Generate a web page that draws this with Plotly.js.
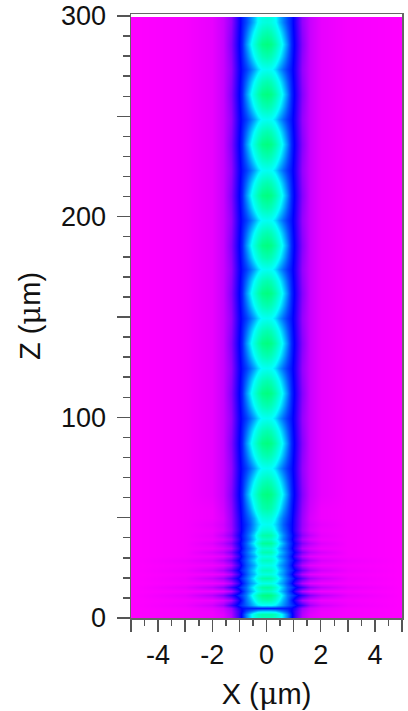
<!DOCTYPE html>
<html><head><meta charset="utf-8">
<script src="https://cdn.plot.ly/plotly-3.0.1.min.js"></script>
<style>html,body{margin:0;padding:0;background:#fff}</style></head>
<body><div id="chart" style="width:408px;height:711px"></div>
<script>
// distance from the axis of the guide (um)
const offsetsX = [0,.15,.3,.45,.6,.75,.9,1.05,1.3,1.6,2,3,5];
// propagation positions (um)
const depthsZ = [0,2,3.5,5,6.5,9,11.5,13.5,15.5,17.5,20,22,24,26.5,29,31,33,35,37.5,39.5,41.5,44,47,50,55,
 62,68,74.5,81,87,93,99.5,106,112,118,124.5,131,137,143,149.5,156,162,168,174,180,186,192,198.5,205,211,217,223.5,230,236,242,248.5,255,261,267,273.5,280,286,292,297];
// normalised intensity at each depth, half profile (mirrored about X = 0)
const intensity = [
[.84,.84,.80,.72,.62,.50,.36,.24,.09,.04,.02,.01,0],
[.88,.88,.84,.74,.62,.50,.37,.25,.10,.04,.02,.01,0],
[.62,.62,.60,.54,.48,.42,.34,.25,.11,.05,.02,.01,0],
[.37,.37,.37,.37,.37,.36,.34,.28,.13,.06,.03,.01,0],
[.66,.67,.64,.58,.52,.46,.41,.36,.25,.12,.06,.02,0],
[.88,.86,.78,.66,.56,.48,.38,.28,.11,.05,.02,.01,0],
[1.00,.98,.88,.74,.62,.50,.43,.38,.27,.16,.09,.03,0],
[.82,.80,.72,.62,.54,.46,.37,.26,.10,.04,.02,.01,0],
[.92,.90,.80,.68,.58,.48,.42,.36,.25,.14,.08,.03,0],
[.72,.72,.66,.58,.52,.44,.36,.25,.10,.04,.02,.01,0],
[.90,.88,.78,.66,.56,.48,.41,.34,.22,.12,.07,.02,0],
[.74,.74,.68,.58,.52,.44,.36,.25,.10,.04,.02,.01,0],
[.84,.82,.72,.62,.54,.46,.40,.33,.20,.11,.06,.02,0],
[.72,.72,.66,.56,.50,.44,.36,.25,.10,.04,.02,.01,0],
[.84,.82,.72,.62,.54,.46,.39,.32,.18,.10,.05,.02,0],
[.74,.74,.66,.56,.50,.44,.36,.25,.10,.04,.02,.01,0],
[.88,.86,.74,.62,.54,.46,.39,.31,.17,.09,.05,.01,0],
[.78,.78,.68,.58,.50,.44,.36,.26,.10,.05,.02,.01,0],
[.94,.92,.80,.66,.56,.46,.38,.30,.16,.09,.04,.01,0],
[.82,.80,.70,.60,.50,.43,.36,.26,.11,.05,.02,.01,0],
[.90,.88,.76,.62,.52,.44,.37,.29,.15,.08,.03,.01,0],
[.78,.76,.66,.56,.48,.42,.35,.26,.12,.05,.02,.01,0],
[.70,.68,.62,.54,.46,.40,.35,.27,.13,.06,.03,.01,0],
[.76,.74,.66,.56,.48,.42,.36,.27,.13,.05,.02,.01,0],
[.90,.87,.78,.66,.55,.46,.37,.29,.14,.06,.02,.01,0],
[1.00,.97,.88,.76,.64,.52,.39,.31,.16,.07,.03,.01,0],
[.88,.85,.77,.67,.57,.47,.38,.30,.15,.07,.03,.01,0],
[.70,.68,.62,.54,.47,.41,.36,.29,.14,.07,.03,.01,0],
[.88,.85,.77,.67,.57,.47,.38,.30,.15,.07,.03,.01,0],
[1.00,.97,.88,.76,.64,.52,.39,.31,.16,.07,.03,.01,0],
[.88,.85,.77,.67,.57,.47,.38,.30,.15,.07,.03,.01,0],
[.70,.68,.62,.54,.47,.41,.36,.29,.14,.07,.03,.01,0],
[.88,.85,.77,.67,.57,.47,.38,.30,.15,.07,.03,.01,0],
[1.00,.97,.88,.76,.64,.52,.39,.31,.16,.07,.03,.01,0],
[.88,.85,.77,.67,.57,.47,.38,.30,.15,.07,.03,.01,0],
[.70,.68,.62,.54,.47,.41,.36,.29,.14,.07,.03,.01,0],
[.88,.85,.77,.67,.57,.47,.38,.30,.15,.07,.03,.01,0],
[1.00,.97,.88,.76,.64,.52,.39,.31,.16,.07,.03,.01,0],
[.88,.85,.77,.67,.57,.47,.38,.30,.15,.07,.03,.01,0],
[.70,.68,.62,.54,.47,.41,.36,.29,.14,.07,.03,.01,0],
[.88,.85,.77,.67,.57,.47,.38,.30,.15,.07,.03,.01,0],
[1.00,.97,.88,.76,.64,.52,.39,.31,.16,.07,.03,.01,0],
[.88,.85,.77,.67,.57,.47,.38,.30,.15,.07,.03,.01,0],
[.70,.68,.62,.54,.47,.41,.36,.29,.14,.07,.03,.01,0],
[.88,.85,.77,.67,.57,.47,.38,.30,.15,.07,.03,.01,0],
[1.00,.97,.88,.76,.64,.52,.39,.31,.16,.07,.03,.01,0],
[.88,.85,.77,.67,.57,.47,.38,.30,.15,.07,.03,.01,0],
[.70,.68,.62,.54,.47,.41,.36,.29,.14,.07,.03,.01,0],
[.88,.85,.77,.67,.57,.47,.38,.30,.15,.07,.03,.01,0],
[1.00,.97,.88,.76,.64,.52,.39,.31,.16,.07,.03,.01,0],
[.88,.85,.77,.67,.57,.47,.38,.30,.15,.07,.03,.01,0],
[.70,.68,.62,.54,.47,.41,.36,.29,.14,.07,.03,.01,0],
[.88,.85,.77,.67,.57,.47,.38,.30,.15,.07,.03,.01,0],
[1.00,.97,.88,.76,.64,.52,.39,.31,.16,.07,.03,.01,0],
[.88,.85,.77,.67,.57,.47,.38,.30,.15,.07,.03,.01,0],
[.70,.68,.62,.54,.47,.41,.36,.29,.14,.07,.03,.01,0],
[.88,.85,.77,.67,.57,.47,.38,.30,.15,.07,.03,.01,0],
[1.00,.97,.88,.76,.64,.52,.39,.31,.16,.07,.03,.01,0],
[.88,.85,.77,.67,.57,.47,.38,.30,.15,.07,.03,.01,0],
[.70,.68,.62,.54,.47,.41,.36,.29,.14,.07,.03,.01,0],
[.88,.85,.77,.67,.57,.47,.38,.30,.15,.07,.03,.01,0],
[1.00,.97,.88,.76,.64,.52,.39,.31,.16,.07,.03,.01,0],
[.88,.85,.77,.67,.57,.47,.38,.30,.15,.07,.03,.01,0],
[.76,.74,.68,.58,.50,.43,.37,.29,.14,.07,.03,.01,0]
];
const xTickVals = [-5,-4,-3,-2,-1,0,1,2,3,4,5];
const xTickText = ['','-4','','-2','','0','','2','','4',''];
const yTickVals = [0,50,100,150,200,250,300];
const yTickText = ['0','','100','','200','','300'];
const spectrum = [[0,'#ff00ff'],[1/3,'#0000ff'],[2/3,'#00ffff'],[1,'#00ff80']];

const left = offsetsX.slice(1).reverse().map(v => -v);
const xs = left.concat(offsetsX);
const zs = intensity.map(r => r.slice(1).reverse().concat(r));
const fnt = {family:'"Liberation Sans",Arial,sans-serif', size:27, color:'#111'};
const tfnt = {family:'"Liberation Sans",Arial,sans-serif', size:29, color:'#111'};
const mu = '<span style="font-family:\'DejaVu Serif\'">μ</span>';

Plotly.newPlot('chart',[{type:'heatmap',x:xs,y:depthsZ,z:zs,zmin:0,zmax:1,zsmooth:'best',
  colorscale:spectrum,showscale:false,hoverinfo:'skip'}],{
  width:408,height:711,paper_bgcolor:'#fff',plot_bgcolor:'#fff',
  margin:{l:130.5,r:5.5,t:14,b:93},
  xaxis:{range:[-5,5],tickmode:'array',tickvals:xTickVals,ticktext:xTickText,ticks:'outside',ticklen:12,tickwidth:1.5,tickcolor:'#555',
    minor:{dtick:.5,ticks:'outside',ticklen:6,tickwidth:1.5,tickcolor:'#555',showgrid:false},
    showgrid:false,zeroline:false,showline:true,mirror:true,linecolor:'#666',linewidth:1.5,tickfont:fnt,
    title:{text:'X ('+mu+'m)',font:tfnt,standoff:17}},
  yaxis:{range:[0,301],tickmode:'array',tickvals:yTickVals,ticktext:yTickText,ticks:'outside',ticklen:13,tickwidth:1.5,tickcolor:'#555',ticklabelstandoff:5,
    minor:{dtick:10,ticks:'outside',ticklen:7,tickwidth:1.5,tickcolor:'#555',showgrid:false},
    showgrid:false,zeroline:false,showline:true,mirror:true,linecolor:'#666',linewidth:1.5,tickfont:fnt,
    title:{text:'Z ('+mu+'m)',font:tfnt,standoff:12}}
},{displayModeBar:false,staticPlot:true});
</script></body></html>
